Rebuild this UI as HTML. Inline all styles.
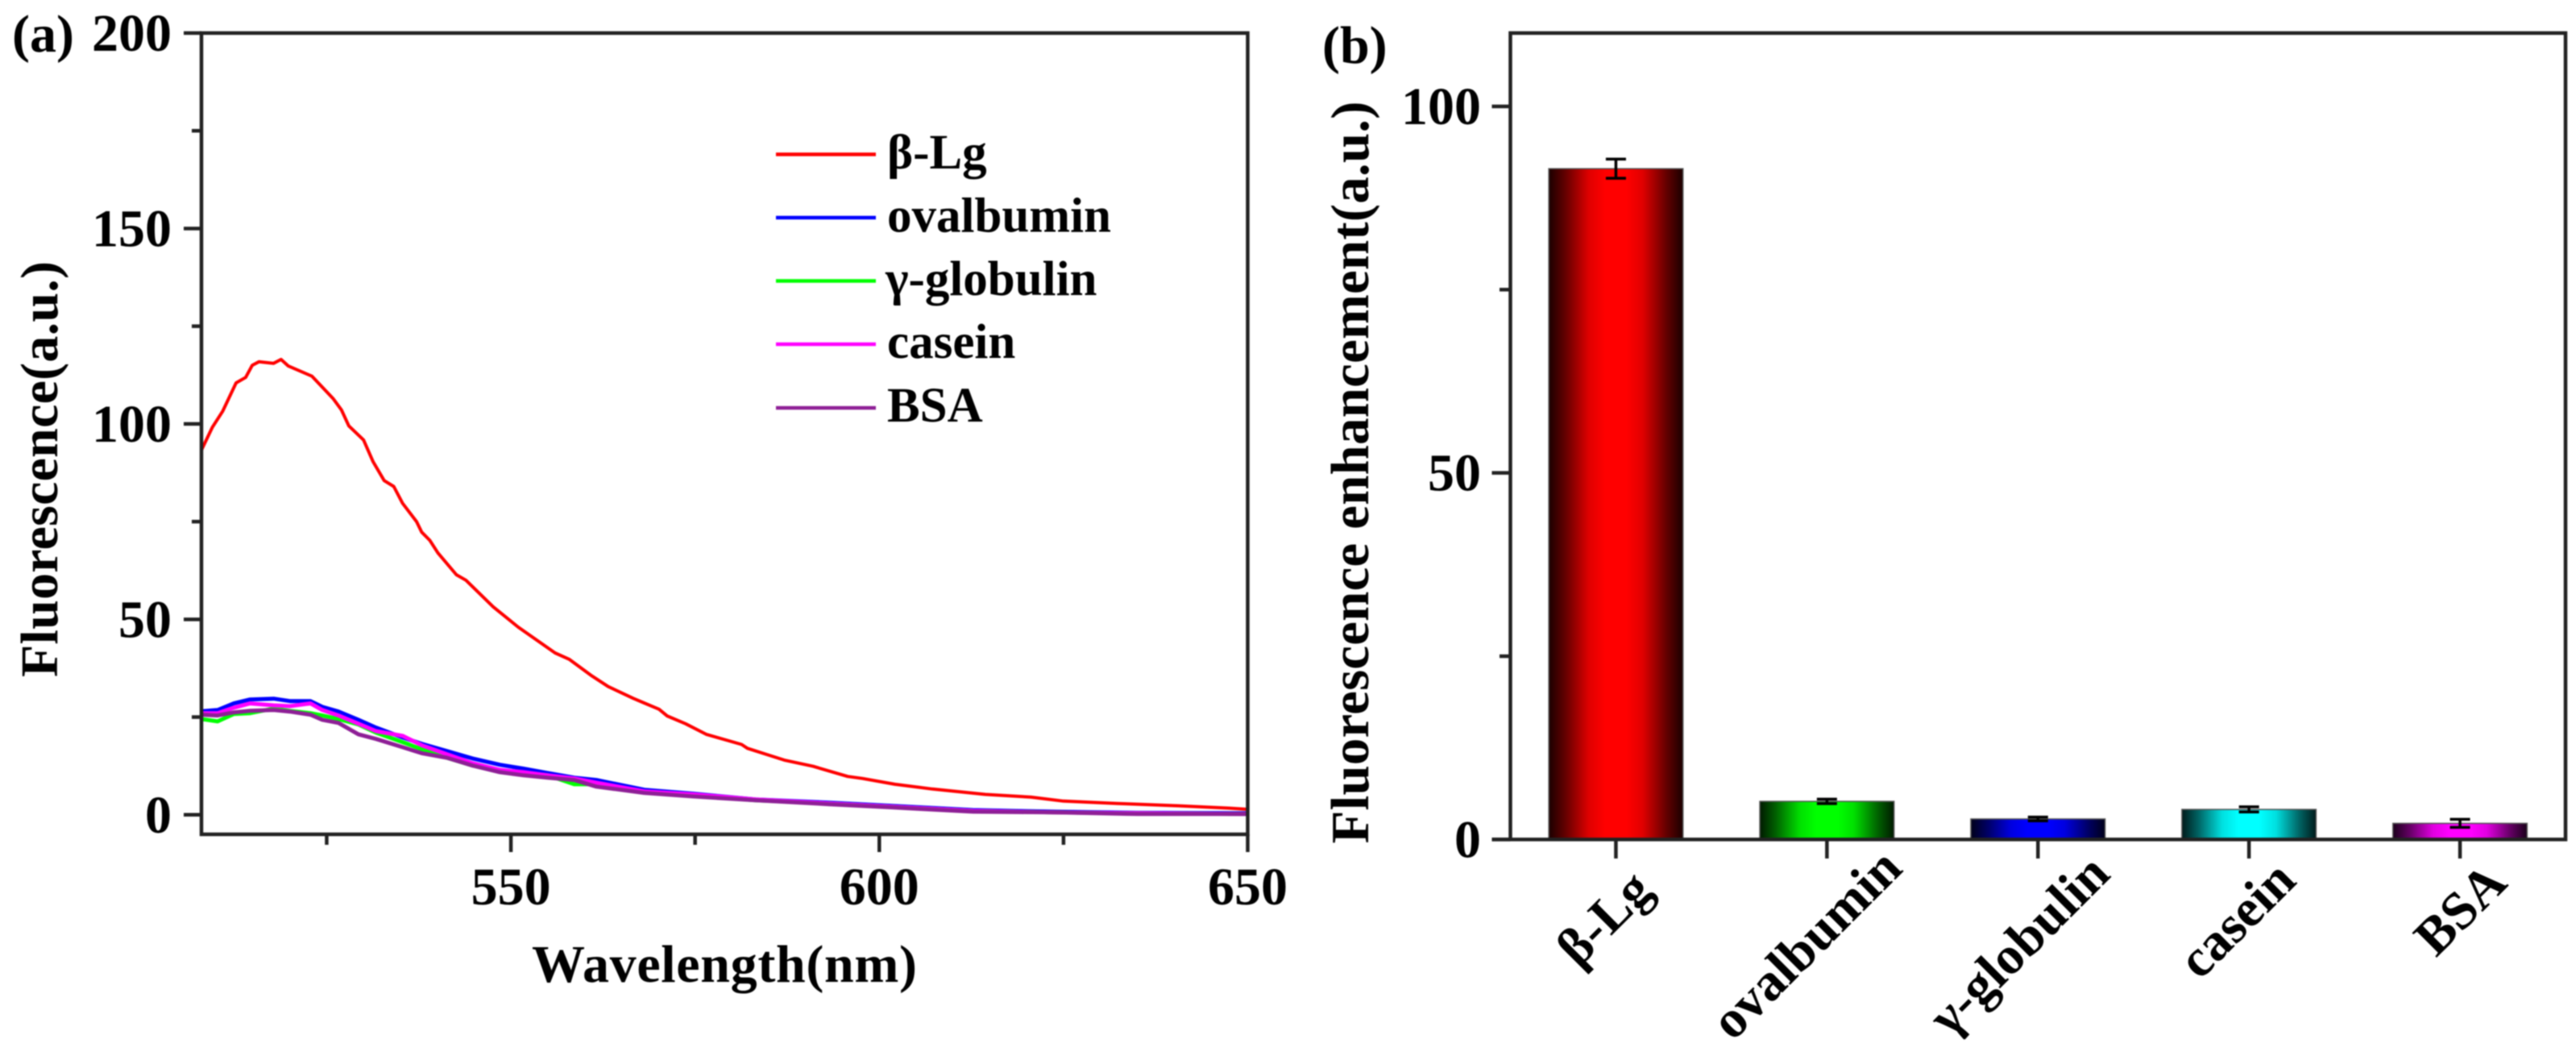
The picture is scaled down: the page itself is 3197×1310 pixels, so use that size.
<!DOCTYPE html>
<html lang="en">
<head>
<meta charset="utf-8">
<title>Fluorescence spectra and enhancement</title>
<style>
html,body{margin:0;padding:0;background:#fff;width:3197px;height:1310px;overflow:hidden}
svg{display:block;filter:blur(0.9px)}
text{font-family:"Liberation Serif","DejaVu Serif",serif;font-weight:bold;fill:#000}
.axis{stroke:#222;stroke-width:4.5;fill:none}
.leg{stroke-width:4.5}
</style>
</head>
<body>
<svg id="chart" xmlns="http://www.w3.org/2000/svg" width="3197" height="1310" viewBox="0 0 3197 1310">
  <defs id="defs"></defs>
  <rect x="0" y="0" width="3197" height="1310" fill="#fff"/>

  <g id="panel-a">
    <g id="a-series"></g>
    <rect class="axis" x="250" y="41" width="1298.5" height="994"/>
    <g id="a-ticks"></g>
    <text x="15" y="64" font-size="66">(a)</text>
    <text x="660" y="1218" font-size="66" textLength="478">Wavelength(nm)</text>
    <text transform="translate(71,840) rotate(-90)" font-size="66" textLength="516">Fluorescence(a.u.)</text>
    <g>
      <g>
        <line class="leg" x1="963" x2="1087" y1="191.5" y2="191.5" stroke="#ff0000"/>
        <text x="1101" y="209" font-size="61">β-Lg</text>
      </g>
      <g>
        <line class="leg" x1="963" x2="1087" y1="270" y2="270" stroke="#0000ff"/>
        <text x="1101" y="287.5" font-size="61">ovalbumin</text>
      </g>
      <g>
        <line class="leg" x1="963" x2="1087" y1="348.5" y2="348.5" stroke="#00ff00"/>
        <text x="1099" y="366" font-size="61">γ-globulin</text>
      </g>
      <g>
        <line class="leg" x1="963" x2="1087" y1="427" y2="427" stroke="#ff00ff"/>
        <text x="1101" y="444" font-size="61">casein</text>
      </g>
      <g>
        <line class="leg" x1="963" x2="1087" y1="506" y2="506" stroke="#8e1f96"/>
        <text x="1101" y="523" font-size="61">BSA</text>
      </g>
    </g>
  </g>

  <g id="panel-b">
    <g id="b-bars"></g>
    <path class="axis" d="M1874.5 1041.4V41H3184V1041.4H1851.5"/>
    <g id="b-ticks"></g>
    <text x="1641" y="78" font-size="66">(b)</text>
    <text transform="translate(1698,1046.5) rotate(-90)" font-size="67" textLength="921">Fluorescence enhancement(a.u.)</text>
  </g>
</svg>
<script>
/* panel (a) data */
const redWavelengths = [508,509.5,510.9,512.7,514,514.9,515.8,517.8,518.8,519.8,523,525.9,527,528,530,531.3,532.8,534.1,535.3,537.2,537.9,539,540.1,542.6,543.9,547.6,551,556,557.9,561,563.2,566.6,568.1,570.1,571.2,573.7,576.5,581.3,582.1,584.6,587.1,591,595.7,597.7,602.1,607.2,614.4,620.6,625,632.3,640.6,647.4,650];
const betaLgValues = [93.3,99.2,103.3,110.5,111.9,115,115.9,115.5,116.5,114.8,112.2,106.4,103.6,99.5,95.9,90.3,85.5,84,79.7,75,72.3,70.2,67,61.4,60,53.2,48,41.4,39.8,35.5,32.8,29.8,28.6,27,25.3,23.3,20.6,18,17,15.5,14,12.4,9.8,9.3,7.8,6.6,5.2,4.5,3.5,2.9,2.3,1.7,1.4];
const lowWavelengths = [508,510.2,512.4,514.6,517.8,520,522.8,524.4,526.6,529.3,531.7,535.3,538,541.3,544.8,548.5,551.7,555,558.6,561.6,568.1,574.8,583.2,593.3,601.6,612.7,623.9,635,650];
const ovalbuminValues = [26.5,26.8,28.5,29.5,29.7,29.1,29.1,27.6,26.4,24.3,22.3,19.8,18.1,16.3,14.4,12.8,11.8,10.7,9.5,8.9,6.4,5.4,3.9,3.1,2.3,1.2,0.8,0.5,0.4];
const globulinValues = [24.5,23.9,25.8,26,27.2,26.6,26,25.4,24.5,23.1,21,18.6,16.7,14.6,12.6,11.1,10.7,10.1,7.8,7.8,5.8,5,3.7,2.9,2.1,1,0.6,0.4,0.2];
const caseinValues = [26,26,27.4,28.5,28,27.8,28.5,26.8,25.4,23.3,21.4,20.2,17.7,15.5,13.2,11.5,10.9,10.1,9.3,8.2,6,5.2,3.9,2.9,2.1,1,0.6,0.4,0.2];
const bsaValues = [25.6,25.4,26.2,26.6,26.8,26.4,25.6,24.3,23.5,20.6,19.4,17.3,15.7,14.6,12.6,10.9,10.1,9.5,8.9,7.2,5.6,4.7,3.7,2.7,1.9,0.8,0.6,0.2,0.2];
const aXMajorTicks = [550,600,650];
const aXMinorTicks = [525,575,625];
const aYMajorTicks = [0,50,100,150,200];
const aYMinorTicks = [25,75,125,175];

/* panel (b) data */
const barCategories = ["β-Lg","ovalbumin","γ-globulin","casein","BSA"];
const barValues = [91.5,5.2,2.8,4.1,2.2];
const barErrors = [1.3,0.3,0.25,0.35,0.55];
const bYMajorTicks = [0,50,100];
const bYMinorTicks = [25,75];

const NS = "http://www.w3.org/2000/svg";
function mk(tag, attrs, parent) {
  const e = document.createElementNS(NS, tag);
  for (const k in attrs) e.setAttribute(k, attrs[k]);
  parent.appendChild(e);
  return e;
}

/* axis functions */
const xA = v => 250 + (v - 508) / (650 - 508) * 1298.5;
const yA = v => 41 + (200 - v) / 205 * 994;
const yB = v => 1041.4 - v * (1000.4 / 110);
const bandB = 1309.5 / barCategories.length;
const xB = i => 1874.5 + (i + 0.5) * bandB;

/* spectra */
const seriesG = document.getElementById("a-series");
function drawSeries(name, xs, ys, color, width) {
  const d = ys.map((v, i) => (i ? "L" : "M") + xA(xs[i]).toFixed(1) + " " + yA(v).toFixed(1)).join("");
  const p = mk("path", {d: d, fill: "none", stroke: color, "stroke-width": width, "stroke-linejoin": "round"}, seriesG);
  
  
}
drawSeries("series-beta-lg", redWavelengths, betaLgValues, "#ff0000", 4);
drawSeries("series-ovalbumin", lowWavelengths, ovalbuminValues, "#0000ff", 5);
drawSeries("series-gamma-globulin", lowWavelengths, globulinValues, "#00ff00", 5);
drawSeries("series-casein", lowWavelengths, caseinValues, "#ff00ff", 5);
drawSeries("series-bsa", lowWavelengths, bsaValues, "#8e1f96", 5);

/* panel a ticks */
const aTicks = document.getElementById("a-ticks");
aXMajorTicks.forEach(v => {
  const t = mk("line", {class: "axis", x1: xA(v), x2: xA(v), y1: 1035, y2: 1057}, aTicks);
  
  
  const l = mk("text", {x: xA(v), y: 1122, "font-size": 66, "text-anchor": "middle"}, aTicks);
  l.textContent = String(v);
  
  
});
aXMinorTicks.forEach(v => {
  const t = mk("line", {class: "axis", x1: xA(v), x2: xA(v), y1: 1035, y2: 1048}, aTicks);
  
  
});
aYMajorTicks.forEach(v => {
  const t = mk("line", {class: "axis", x1: 250, x2: 228, y1: yA(v), y2: yA(v)}, aTicks);
  
  
  const l = mk("text", {x: 213, y: yA(v) + 22, "font-size": 66, "text-anchor": "end"}, aTicks);
  l.textContent = String(v);
  
  
});
aYMinorTicks.forEach(v => {
  const t = mk("line", {class: "axis", x1: 250, x2: 238, y1: yA(v), y2: yA(v)}, aTicks);
  
  
});

/* bars */
const barColors = ["255,0,0","0,255,0","0,0,255","0,255,255","255,0,255"];
const defs = document.getElementById("defs");
const barsG = document.getElementById("b-bars");
const barW = bandB * 0.636;
barCategories.forEach((c, i) => {
  const g = mk("linearGradient", {id: "grad" + i, x1: 0, x2: 1, y1: 0, y2: 0}, defs);
  [[0, 0.1], [0.12, 0.38], [0.3, 0.88], [0.42, 1], [0.58, 1], [0.7, 0.88], [0.88, 0.38], [1, 0.1]].forEach(s => {
    const rgb = barColors[i].split(",").map(n => Math.round(+n * s[1]));
    mk("stop", {offset: s[0], "stop-color": "rgb(" + rgb.join(",") + ")"}, g);
  });
  const cx = xB(i);
  const bar = mk("rect", {x: cx - barW / 2, y: yB(barValues[i]), width: barW, height: yB(0) - yB(barValues[i]), fill: "url(#grad" + i + ")", stroke: "#555", "stroke-width": 1.5}, barsG);
  
  
  const top = yB(barValues[i] + barErrors[i]);
  const bot = yB(barValues[i] - barErrors[i]);
  const err = mk("path", {d: "M" + (cx - 12.5) + " " + top + "H" + (cx + 12.5) + "M" + cx + " " + top + "V" + bot + "M" + (cx - 12.5) + " " + bot + "H" + (cx + 12.5), stroke: "#000", "stroke-width": 3.5, fill: "none"}, barsG);
  
  
});

/* panel b ticks */
const bTicks = document.getElementById("b-ticks");
bYMajorTicks.forEach(v => {
  const t = mk("line", {class: "axis", x1: 1874.5, x2: 1851.5, y1: yB(v), y2: yB(v)}, bTicks);
  
  
  const l = mk("text", {x: 1838, y: yB(v) + 22, "font-size": 66, "text-anchor": "end"}, bTicks);
  l.textContent = String(v);
  
  
});
bYMinorTicks.forEach(v => {
  const t = mk("line", {class: "axis", x1: 1874.5, x2: 1861, y1: yB(v), y2: yB(v)}, bTicks);
  
  
});
barCategories.forEach((c, i) => {
  const cx = xB(i);
  const t = mk("line", {class: "axis", x1: cx, x2: cx, y1: 1041.4, y2: 1065}, bTicks);
  
  
  const l = mk("text", {"font-size": 66, "text-anchor": "end"}, bTicks);
  l.textContent = c;
  
  
  /* rotated label end point, relative to its tick */
  const ex = cx + [48, 96, 92, 61, 61][i];
  const ey = [1107, 1080, 1087, 1095, 1098][i];
  l.setAttribute("transform", "translate(" + ex + "," + ey + ") rotate(-45)");
});
</script>
</body>
</html>
